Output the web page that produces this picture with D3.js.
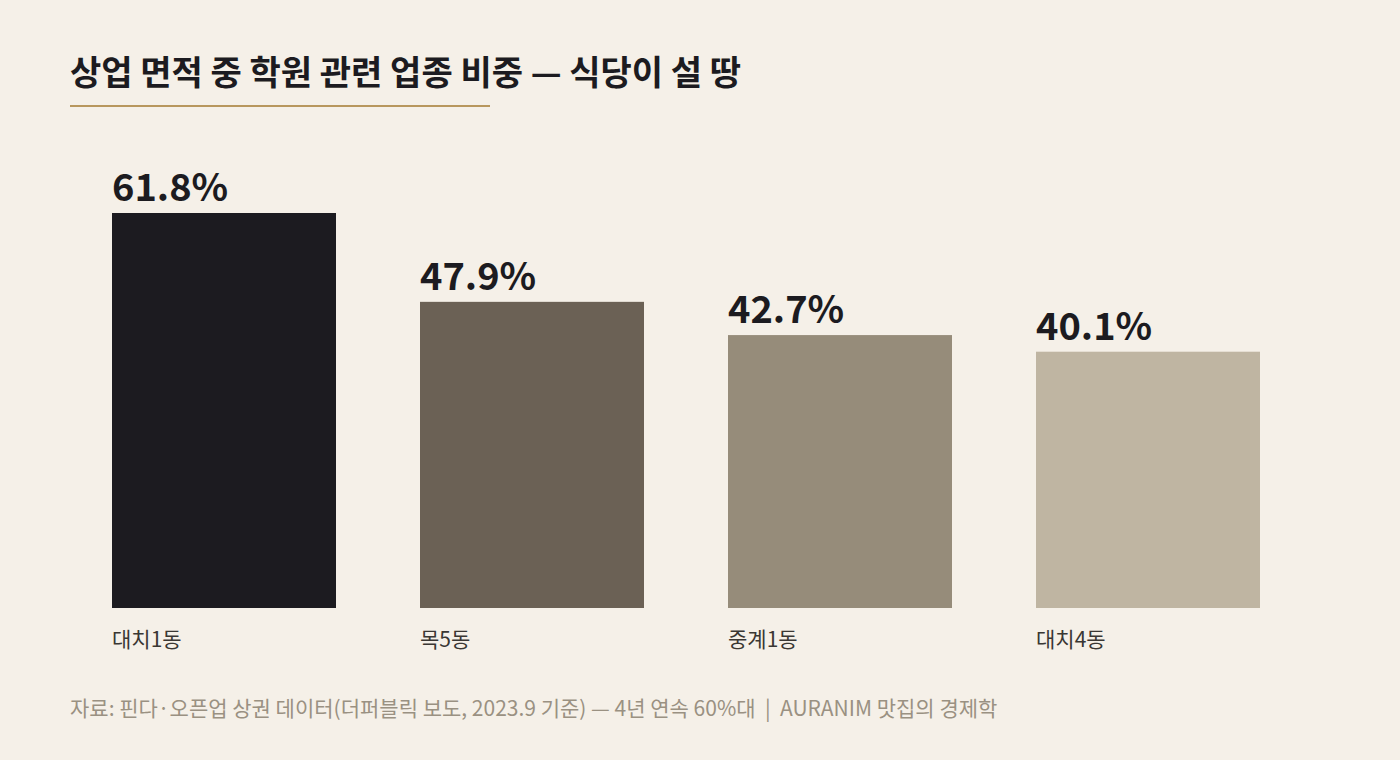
<!DOCTYPE html>
<html>
<head>
<meta charset="utf-8">
<script src="https://cdn.jsdelivr.net/npm/d3@7"></script>
<style>
  html, body { margin: 0; padding: 0; background: #f5f0e8; }
  svg { display: block; font-family: "Noto Sans CJK KR", "Noto Sans", sans-serif; }
</style>
</head>
<body>
<main></main>
<script>
const districts = ["대치1동", "목5동", "중계1동", "대치4동"];
const shares = [61.8, 47.9, 42.7, 40.1];
const barColors = ["#1c1b20", "#6b6155", "#968c7a", "#bfb5a2"];

const titleText = "상업 면적 중 학원 관련 업종 비중 — 식당이 설 땅";
const sourceText = "자료: 핀다·오픈업 상권 데이터(더퍼블릭 보도, 2023.9 기준) — 4년 연속 60%대  |  AURANIM 맛집의 경제학";

const w = 1400, h = 760;

const svg = d3.select("main")
	.append("svg")
	.attr("width", w)
	.attr("height", h);

svg.append("rect")
	.attr("width", w)
	.attr("height", h)
	.attr("fill", "#f5f0e8");

svg.append("text")
	.attr("x", 70)
	.attr("y", 85)
	.attr("fill", "#1c1b20")
	.style("font-size", "34px")
	.style("font-weight", 700)
	.text(titleText);

svg.append("line")
	.attr("x1", 70)
	.attr("x2", 490)
	.attr("y1", 106)
	.attr("y2", 106)
	.attr("stroke", "#b8975e")
	.attr("stroke-width", 2);

const xScale = d3.scaleBand()
	.domain(districts)
	.range([112, 1260])
	.paddingInner(84 / 308)
	.paddingOuter(0);

const yScale = d3.scaleLinear()
	.domain([0, 61.8])
	.range([608, 213]);

const rows = districts.map((d, i) => ({name: d, value: shares[i], color: barColors[i]}));

svg.selectAll("rect.bar")
	.data(rows)
	.enter()
	.append("rect")
	.attr("class", "bar")
	.attr("x", d => xScale(d.name))
	.attr("y", d => yScale(d.value))
	.attr("width", xScale.bandwidth())
	.attr("height", d => yScale(0) - yScale(d.value))
	.attr("fill", d => d.color);

svg.selectAll("text.value")
	.data(rows)
	.enter()
	.append("text")
	.attr("class", "value")
	.attr("x", d => xScale(d.name))
	.attr("y", d => yScale(d.value) - 12)
	.attr("fill", "#1c1b20")
	.style("font-size", "38px")
	.style("font-weight", 700)
	.text(d => d.value.toFixed(1) + "%");

svg.selectAll("text.cat")
	.data(rows)
	.enter()
	.append("text")
	.attr("class", "cat")
	.attr("x", d => xScale(d.name))
	.attr("y", 647)
	.attr("fill", "#3a3733")
	.style("font-size", "21px")
	.text(d => d.name);

svg.append("text")
	.attr("x", 70)
	.attr("y", 716)
	.attr("fill", "#9a9182")
	.style("font-size", "21px")
	.attr("xml:space", "preserve")
	.text(sourceText);
</script>
</body>
</html>
